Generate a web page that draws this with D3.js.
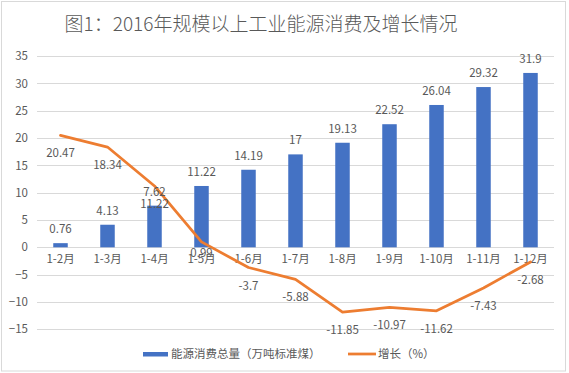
<!DOCTYPE html>
<html>
<head>
<meta charset="utf-8">
<script src="https://cdn.jsdelivr.net/npm/d3@7"></script>
<style>
  body { margin: 0; background: #fff; }
  svg text { font-family: "Noto Sans CJK SC", "Noto Sans", sans-serif; fill: #595959; }
</style>
</head>
<body>
<div class="chart"></div>
<script>
// chart data
const months = ["1-2月", "1-3月", "1-4月", "1-5月", "1-6月", "1-7月", "1-8月", "1-9月", "1-10月", "1-11月", "1-12月"];
const energy = [0.76, 4.13, 7.62, 11.22, 14.19, 17, 19.13, 22.52, 26.04, 29.32, 31.9];
const growth = [20.47, 18.34, 11.22, 0.99, -3.7, -5.88, -11.85, -10.97, -11.62, -7.43, -2.68];
const yTicks = [-15, -10, -5, 0, 5, 10, 15, 20, 25, 30, 35];

const WIDTH = 569;
const HEIGHT = 373;

const svg = d3.select(".chart")
  .append("svg")
  .attr("width", WIDTH)
  .attr("height", HEIGHT);

// outer frame
svg.append("rect")
  .attr("x", 1.5).attr("y", 1.5)
  .attr("width", 564).attr("height", 369.5)
  .attr("fill", "#fff")
  .attr("stroke", "#d9d9d9");

// title
svg.append("text")
  .attr("x", 261).attr("y", 31)
  .attr("text-anchor", "middle")
  .style("font-size", "19px")
  .style("font-weight", 300)
  .text("图1：2016年规模以上工业能源消费及增长情况");

// scales
const x = d3.scaleBand().domain(months).range([37, 554]);
const y = d3.scaleLinear().domain([-15, 35]).range([329.3, 56]);

// gridlines
svg.append("g")
  .selectAll("line")
  .data(yTicks)
  .enter()
  .append("line")
  .attr("x1", 37).attr("x2", 554)
  .attr("y1", d => Math.round(y(d)) + 0.5)
  .attr("y2", d => Math.round(y(d)) + 0.5)
  .attr("stroke", "#d9d9d9");

// y axis labels
const yAxis = svg.append("g")
  .attr("transform", "translate(37,0)")
  .call(d3.axisLeft(y).tickValues(yTicks).tickSize(0).tickPadding(9));
yAxis.select(".domain").remove();
yAxis.selectAll("text")
  .attr("fill", "#595959")
  .style("font-size", "11.5px");

// bars
const barW = 14.5;
svg.append("g")
  .selectAll("rect")
  .data(energy)
  .enter()
  .append("rect")
  .attr("x", (d, i) => x(months[i]) + x.bandwidth() / 2 - barW / 2)
  .attr("y", d => y(d))
  .attr("width", barW)
  .attr("height", d => y(0) - y(d))
  .attr("fill", "#4472c4");

// x axis labels under the zero line
const xAxis = svg.append("g")
  .attr("transform", `translate(0,${y(0)})`)
  .call(d3.axisBottom(x).tickSize(0).tickPadding(8));
xAxis.select(".domain").remove();
xAxis.selectAll("text")
  .attr("fill", "#595959")
  .style("font-size", "11.5px");

// growth line
const line = d3.line()
  .x((d, i) => x(months[i]) + x.bandwidth() / 2)
  .y(d => y(d));

svg.append("path")
  .datum(growth)
  .attr("d", line)
  .attr("fill", "none")
  .attr("stroke", "#ed7d31")
  .attr("stroke-width", 2.75)
  .attr("stroke-linejoin", "round")
  .attr("stroke-linecap", "round");

// bar value labels
svg.append("g")
  .selectAll("text")
  .data(energy)
  .enter()
  .append("text")
  .attr("x", (d, i) => x(months[i]) + x.bandwidth() / 2)
  .attr("y", d => y(d) - 10)
  .attr("text-anchor", "middle")
  .style("font-size", "11.5px")
  .text(d => d);

// line value labels below points; small positive ones sit just above the month labels
svg.append("g")
  .selectAll("text")
  .data(growth)
  .enter()
  .append("text")
  .attr("x", (d, i) => x(months[i]) + x.bandwidth() / 2)
  .attr("y", d => d >= 0 ? Math.min(y(d) + 22, y(0) + 10) : y(d) + 22)
  .attr("text-anchor", "middle")
  .style("font-size", "11.5px")
  .text(d => d);

// legend
const legend = svg.append("g");
legend.append("rect")
  .attr("x", 143).attr("y", 352)
  .attr("width", 25).attr("height", 4.5)
  .attr("fill", "#4472c4");
legend.append("text")
  .attr("x", 171).attr("y", 358)
  .style("font-size", "11.5px")
  .text("能源消费总量（万吨标准煤）");
legend.append("line")
  .attr("x1", 348).attr("x2", 376)
  .attr("y1", 354).attr("y2", 354)
  .attr("stroke", "#ed7d31")
  .attr("stroke-width", 2.75);
legend.append("text")
  .attr("x", 378).attr("y", 358)
  .style("font-size", "11.5px")
  .text("增长（%）");
</script>
</body>
</html>
